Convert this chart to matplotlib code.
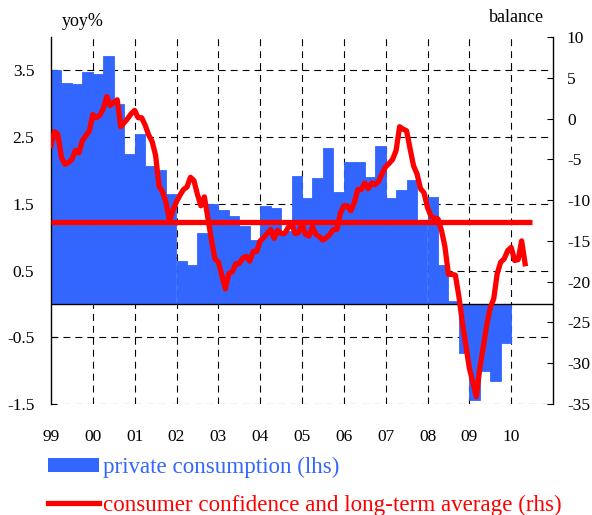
import numpy as np
import matplotlib
matplotlib.use('Agg')
import matplotlib.pyplot as plt
from matplotlib.patches import Patch
from matplotlib.lines import Line2D

# ======================================================= #
# data
# private consumption, yoy %, quarterly 1999Q1 - 2009Q4 (lhs)
consumption = [3.50, 3.31, 3.29, 3.47,
               3.44, 3.71, 2.99, 2.24,
               2.55, 2.06, 2.01, 1.65,
               0.64, 0.59, 1.06, 1.50,
               1.41, 1.32, 1.17, 0.96,
               1.46, 1.44, 1.09, 1.92,
               1.58, 1.88, 2.33, 1.67,
               2.13, 2.13, 1.90, 2.36,
               1.58, 1.70, 1.85, 1.22,
               1.60, 0.59, 0.05, -0.73,
               -1.44, -1.00, -1.15, -0.58]

# consumer confidence, balance, monthly Jan 1999 - May 2010 (rhs)
confidence = [-3.3, -1.6, -2.0, -4.8, -5.6, -5.4, -5.0, -3.9, -4.2, -2.7, -2.1, -1.5,
              0.5, 0.1, 0.4, 1.2, 2.7, 1.6, 2.0, 2.3, -1.0, -0.5, 0.0, 0.6,
              1.0, 0.1, 0.1, -0.8, -2.0, -2.8, -4.5, -8.3, -9.0, -10.3, -12.6, -11.2,
              -10.2, -9.4, -8.7, -8.4, -7.2, -7.6, -9.3, -10.7, -9.6, -12.2, -14.8, -17.2,
              -17.6, -19.2, -20.9, -19.0, -18.8, -17.8, -17.8, -17.1, -16.9, -17.5, -16.3, -16.3,
              -15.0, -14.6, -14.1, -13.6, -14.7, -13.7, -14.1, -14.1, -13.4, -12.8, -14.1, -14.0,
              -12.9, -14.2, -14.4, -13.3, -14.2, -14.5, -14.9, -14.6, -14.2, -13.6, -13.6, -11.6,
              -10.7, -10.7, -11.3, -10.3, -8.7, -8.7, -7.9, -8.6, -7.9, -8.1, -7.7, -6.7,
              -5.9, -5.5, -5.0, -3.9, -1.0, -1.3, -1.5, -3.7, -5.8, -6.8, -8.6, -9.1,
              -10.9, -12.0, -12.2, -12.3, -13.7, -15.7, -19.1, -19.1, -19.2, -21.8, -25.0, -27.8,
              -30.6, -32.3, -34.1, -30.6, -28.0, -25.3, -23.2, -22.1, -19.0, -17.6, -17.2, -16.2,
              -15.8, -17.4, -17.3, -15.0, -17.8]

long_term_avg = -12.7
avg_months = 138

year_ticks = list(range(1999, 2011))
year_labels = ['99', '00', '01', '02', '03', '04', '05', '06', '07', '08', '09', '10']

# ======================================================= #
# style
plt.rcParams['font.family'] = ['Liberation Serif', 'DejaVu Serif']
plt.rcParams['lines.scale_dashes'] = False
plt.rcParams['axes.unicode_minus'] = False
blue = '#3366FF'
red = '#FF0000'
dash = (0, (5, 3.6))

fig = plt.figure(figsize=(5.92, 5.15), dpi=100)
ax = fig.add_axes([51 / 592, 1 - 404 / 515, 502 / 592, 367 / 515])
ax2 = ax.twinx()

# ======================================================= #
# bars (lhs)
q_pos = 1999 + np.arange(len(consumption)) / 4
ax.bar(q_pos, consumption, width=0.25, align='edge', color=blue,
       edgecolor=blue, linewidth=0.6, zorder=2)
ax.axhline(0, color='black', lw=1, zorder=3)

ax.set_xlim(1999, 2011)
ax.set_ylim(-1.5, 4.0)
ax.set_yticks([3.5, 2.5, 1.5, 0.5, -0.5, -1.5])
ax.set_yticklabels(['3.5', '2.5', '1.5', '0.5', '-0.5', '-1.5'])
ax.set_xticks(year_ticks)
ax.set_xticklabels(year_labels)
ax.tick_params(axis='x', length=0, pad=18, labelsize=12.5)
ax.tick_params(axis='y', direction='in', length=4, pad=12, labelsize=12.5)

# dashed grid under the bars
for yv in [3.5, 2.5, 1.5, 0.5, -0.5, -1.5]:
    ax.axhline(yv, color='black', lw=0.8, linestyle=dash, zorder=1)
for xv in range(2000, 2011):
    ax.axvline(xv, color='black', lw=0.8, linestyle=dash, zorder=1)

for s in ['top', 'bottom', 'right']:
    ax.spines[s].set_visible(False)
ax.spines['left'].set_linewidth(1)

# ======================================================= #
# confidence line (rhs)
t = 1999 + np.arange(len(confidence)) / 12
ax2.plot(t, confidence, color=red, lw=3.8, solid_joinstyle='round')
ax2.plot([1999, 1999 + avg_months / 12], [long_term_avg, long_term_avg],
         color=red, lw=3.8, solid_capstyle='butt')
ax2.set_ylim(-35, 10)
ax2.set_yticks(range(10, -36, -5))
ax2.tick_params(axis='y', direction='in', length=4, pad=10, labelsize=12.5)
for s in ['top', 'bottom', 'left']:
    ax2.spines[s].set_visible(False)
ax2.spines['right'].set_linewidth(1)

# ======================================================= #
# labels and legend
fig.text(62 / 592, 1 - 22 / 515, 'yoy%', fontsize=13, va='center', ha='left')
fig.text(544 / 592, 1 - 17 / 515, 'balance', fontsize=13, va='center', ha='right')

handles = [Patch(facecolor=blue, edgecolor='none'),
           Line2D([0], [0], color=red, lw=3.8)]
leg = fig.legend(handles,
                 ['private consumption (lhs)', 'consumer confidence and long-term average (rhs)'],
                 loc='upper left', bbox_to_anchor=(48 / 592, 1 - 457 / 515),
                 frameon=False, fontsize=16.6, handlelength=2.2, handleheight=0.55,
                 handletextpad=0.2, labelspacing=0.72, borderaxespad=0, borderpad=0)
leg.get_texts()[0].set_color(blue)
leg.get_texts()[1].set_color(red)

fig.savefig('out.png', dpi=100)
